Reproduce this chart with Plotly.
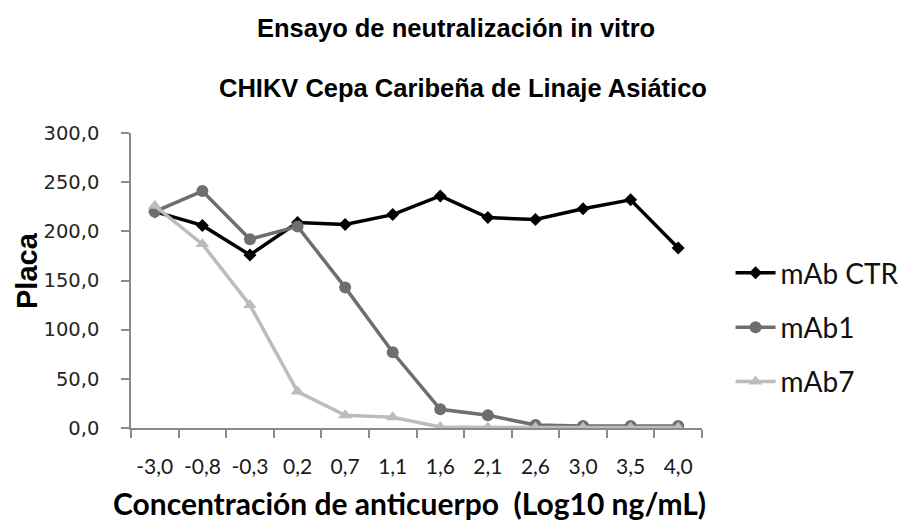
import plotly.graph_objects as go

categories = ["-3,0", "-0,8", "-0,3", "0,2", "0,7", "1,1", "1,6", "2,1", "2,6", "3,0", "3,5", "4,0"]
mab_ctr = [220, 206, 176, 209, 207, 217, 236, 214, 212, 223, 232, 183]
mab1 = [220, 241, 192, 205, 143, 77, 19, 13, 3, 2, 2, 2]
mab7 = [226, 187, 125, 37, 13, 11, 1, 0.5, 0.5, 0.5, 0.5, 0.5]
y_ticks = [0, 50, 100, 150, 200, 250, 300]
y_tick_text = ["0,0", "50,0", "100,0", "150,0", "200,0", "250,0", "300,0"]

fig = go.Figure()
series = [
    ("mAb CTR", mab_ctr, "#000000", "diamond", 10, "g1"),
    ("mAb1", mab1, "#6e6e6e", "circle", 12, "g2"),
    ("mAb7", mab7, "#bcbcbc", "triangle-up", 12, "g3"),
]
for name, vals, col, sym, sz, grp in series:
    fig.add_trace(go.Scatter(
        x=categories, y=vals, name=name, mode="lines+markers",
        line=dict(color=col, width=3.5),
        marker=dict(color=col, symbol=sym, size=sz),
        legendgroup=grp,
    ))

PW, PH, L, T = 571, 295, 131, 133
fig.update_layout(
    width=908, height=521,
    margin=dict(l=L, r=206, t=T, b=93, autoexpand=False),
    paper_bgcolor="white", plot_bgcolor="white",
    showlegend=True,
    legend=dict(
        x=1.050, xanchor="left", y=0.61, yanchor="top",
        font=dict(family="Lato", size=28, color="#111111"),
        traceorder="grouped", tracegroupgap=15,
        itemwidth=40, bgcolor="rgba(0,0,0,0)", borderwidth=0,
    ),
    annotations=[
        dict(text="<b>Ensayo de neutralización in vitro</b>", xref="paper", yref="paper",
             x=(456 - L) / PW, y=(T + PH - 28) / PH, xanchor="center", yanchor="middle",
             showarrow=False, font=dict(family="Liberation Sans", size=25.5, color="#000")),
        dict(text="<b>CHIKV Cepa Caribeña de Linaje Asiático</b>", xref="paper", yref="paper",
             x=(463 - L) / PW, y=(T + PH - 88) / PH, xanchor="center", yanchor="middle",
             showarrow=False, font=dict(family="Liberation Sans", size=25.5, color="#000")),
        dict(text="<b>Placa</b>", xref="paper", yref="paper",
             x=(27 - L) / PW, y=(T + PH - 271) / PH, xanchor="center", yanchor="middle",
             textangle=-90, showarrow=False,
             font=dict(family="Liberation Sans", size=29, color="#000")),
        dict(text="<b>Concentración de anticuerpo \u00a0(Log10 ng/mL)</b>", xref="paper", yref="paper",
             x=(409 - L) / PW, y=(T + PH - 503) / PH, xanchor="center", yanchor="middle",
             showarrow=False, font=dict(family="Lato", size=30, color="#000")),
    ],
)
fig.update_xaxes(
    type="category", range=[-0.5, 11.5], automargin=False,
    showline=True, linecolor="#8a8a8a", linewidth=1.5,
    ticks="outside", tickson="boundaries", ticklen=8, tickcolor="#8a8a8a", tickwidth=1.5,
    ticklabelstandoff=19,
    tickfont=dict(family="Lato", size=21, color="#1a1a1a"),
    showgrid=False, zeroline=False,
)
fig.update_yaxes(
    range=[0, 300], tickvals=y_ticks, ticktext=y_tick_text, automargin=False,
    showline=True, linecolor="#8a8a8a", linewidth=1.5,
    ticks="outside", ticklen=8, tickcolor="#8a8a8a", tickwidth=1.5,
    ticklabelstandoff=18,
    tickfont=dict(family="DejaVu Sans", size=19.5, color="#262626"),
    showgrid=False, zeroline=False,
)
fig.write_html("out.html", config={"displayModeBar": False},
               post_script="document.body.style.margin='0px';")
